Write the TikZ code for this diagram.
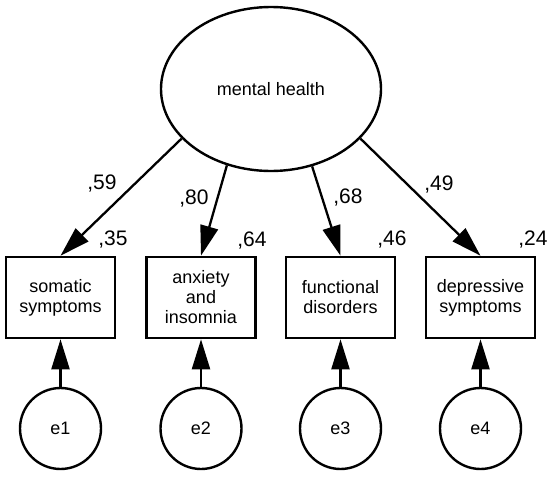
\documentclass[tikz,border=0pt]{standalone}
\usepackage{fontspec}
\setmainfont{Liberation Sans}
\usetikzlibrary{shapes.geometric,arrows.meta}
\tikzset{
  latent/.style={draw, ellipse, line width=2.4pt, minimum width=220pt, minimum height=164pt, inner sep=0pt, font=\fontsize{18}{20}\selectfont},
  obsbox/.style={draw, rectangle, line width=2.6pt, minimum width=109pt, minimum height=81pt, inner sep=0pt, align=center, font=\fontsize{18}{20}\selectfont},
  errc/.style={draw, circle, line width=2.4pt, minimum size=81pt, inner sep=0pt, font=\fontsize{18}{20}\selectfont},
  path/.style={line width=2.3pt, -{Triangle[length=30pt,width=18pt]}},
  coef/.style={font=\fontsize{21}{24}\selectfont, inner sep=0pt}
}
\begin{document}
\begin{tikzpicture}[x=1pt,y=-1pt]
\useasboundingbox (0,0) rectangle (550,477);
\node[latent] (mh) at (271,89) {mental health};
\node[obsbox] (b1) at (60.5,297.5) {somatic\\symptoms};
\node[obsbox] (b2) at (201,297.5) {anxiety\\and\\insomnia};
\node[obsbox] (b3) at (340.5,297.5) {functional\\disorders};
\node[obsbox] (b4) at (480.5,297.5) {depressive\\symptoms};
\node[errc] (e1) at (60.5,428.5) {e1};
\node[errc] (e2) at (201,428.5) {e2};
\node[errc] (e3) at (340.5,428.5) {e3};
\node[errc] (e4) at (480.5,428.5) {e4};
\draw[path] (mh.209) -- (b1.north);
\draw[path] (mh.240.6) -- (b2.north);
\draw[path] (mh.298.3) -- (b3.north);
\draw[path] (mh.331.4) -- (b4.north);
\draw[path] (e1.north) -- (b1.south);
\draw[path] (e2.north) -- (b2.south);
\draw[path] (e3.north) -- (b3.south);
\draw[path] (e4.north) -- (b4.south);
\node[coef] (l1) at (102,184) {,59};
\node[coef] (l2) at (194,199) {,80};
\node[coef] (l3) at (348,198) {,68};
\node[coef] (l4) at (439,185) {,49};
\node[coef] (r1) at (113,240) {,35};
\node[coef] (r2) at (252,241) {,64};
\node[coef] (r3) at (392,240) {,46};
\node[coef] (r4) at (533,240) {,24};
\end{tikzpicture}
\end{document}
